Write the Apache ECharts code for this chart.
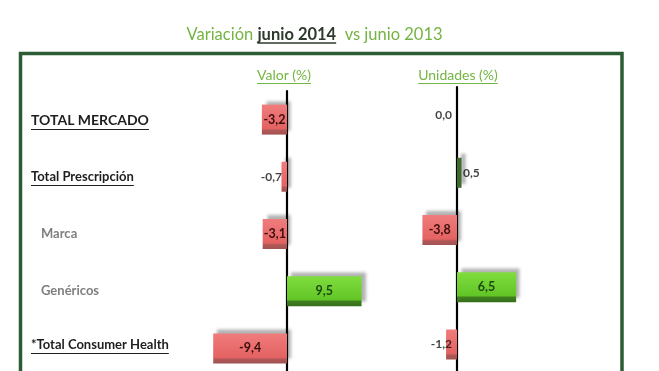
<!DOCTYPE html>
<html><head><meta charset="utf-8">
<script src="https://cdn.jsdelivr.net/npm/echarts@6/dist/echarts.min.js"></script>
<style>html,body{margin:0;padding:0;background:#fff}#c{width:659px;height:371px}</style>
</head><body><div id="c"></div>
<script>
// ---- data ----
const categories = ['TOTAL MERCADO', 'Total Prescripción', 'Marca', 'Genéricos', '*Total Consumer Health'];
const valorValues = [-3.2, -0.7, -3.1, 9.5, -9.4];
const unidadesValues = [0.0, 0.5, -3.8, 6.5, -1.2];
const titleParts = ['Variación ', 'junio 2014', '  vs junio 2013'];
const columnHeaders = ['Valor (%)', 'Unidades (%)'];

// ---- styles ----
const FONT = 'Lato';
const GREEN_TXT = '#74b443';
const LABEL_X = 31;
const catStyles = [
  { fontSize: 14, color: '#1e1e1e', underline: true, indent: 0, shift: -1 },
  { fontSize: 13, color: '#1e1e1e', underline: true, indent: 0, shift: 0 },
  { fontSize: 13, color: '#7f7f7f', underline: false, indent: 10, shift: 0 },
  { fontSize: 13, color: '#7f7f7f', underline: false, indent: 10, shift: 0 },
  { fontSize: 13, color: '#1e1e1e', underline: true, indent: 0, shift: 4 }
];
const fmt = v => v.toFixed(1).replace('.', ',');

function grad(stops) {
  return new echarts.graphic.LinearGradient(0, 0, 0, 1, stops.map(c => ({ offset: c[0], color: c[1] })));
}
const redFill = grad([[0, '#f07c7c'], [0.8, '#e46262'], [0.86, '#b25757'], [1, '#a05252']]);
const greenFill = grad([[0, '#80dd3e'], [0.78, '#62c526'], [0.84, '#3f7f1f'], [1, '#376f1b']]);

function barItem(v) {
  const color = v < 0 ? redFill : (Math.abs(v) < 1 ? '#3f6a2e' : greenFill);
  const big = Math.abs(v) >= 2;
  return {
    value: v,
    itemStyle: {
      color: color,
      shadowColor: v === 0 ? 'transparent' : 'rgba(0,0,0,0.3)',
      shadowBlur: 3, shadowOffsetX: 4, shadowOffsetY: -4
    },
    label: {
      show: big, position: 'inside', formatter: p => fmt(p.value),
      color: v > 0 ? '#1c4a0f' : '#3c0d0d',
      fontFamily: FONT, fontWeight: 'bold', fontSize: 12.5
    }
  };
}
function smallLabels(values) {
  return values.map((v, i) => Math.abs(v) < 2 ? {
    value: [0, i],
    label: { show: true, position: v > 0 ? 'right' : 'left', distance: v > 0 ? 6 : 5,
      formatter: fmt(v), color: '#111', fontFamily: FONT, fontWeight: 'bold', fontSize: 12 }
  } : null).filter(d => d);
}

const rich = {};
catStyles.forEach((s, i) => {
  rich['c' + i] = {
    fontFamily: FONT, fontWeight: 'bold', fontSize: s.fontSize, color: s.color,
    padding: [Math.max(0, -s.shift * 2), 0, Math.max(0, s.shift * 2), s.indent]
  };
});

const chart = echarts.init(document.getElementById('c'), null, { renderer: 'canvas' });
const TITLE_CX = 314.5, TITLE_Y = 35, TITLE_FS = 16.5;
const HEADER_Y = 75, HEADER_FS = 14;
const grids = [
  { left: 192.8, width: 188.4, top: 91, height: 286, outerBoundsMode: 'none', containLabel: false },
  { left: 366, width: 182, top: 87, height: 286, outerBoundsMode: 'none', containLabel: false }
];
const valueAxisRange = [[-12, 12], [-10, 10]];
const headerX = [284, 458];

chart.setOption({
  animation: false,
  backgroundColor: '#fff',
  grid: grids,
  xAxis: valueAxisRange.map((r, i) => ({
    type: 'value', gridIndex: i, min: r[0], max: r[1], show: false
  })),
  yAxis: [0, 1].map(i => ({
    type: 'category', gridIndex: i, data: categories, inverse: true,
    axisLine: { onZero: true, lineStyle: { color: '#000', width: 2.2 } },
    axisTick: { show: false },
    splitLine: { show: false },
    axisLabel: i === 0 ? {
      show: true, align: 'left', margin: grids[0].left - LABEL_X,
      formatter: (v, idx) => `{c${idx}|${v}}`, rich: rich
    } : { show: false }
  })),
  series: [
    { type: 'bar', xAxisIndex: 0, yAxisIndex: 0, barWidth: 30, data: valorValues.map(barItem) },
    { type: 'bar', xAxisIndex: 1, yAxisIndex: 1, barWidth: 30, data: unidadesValues.map(barItem) },
    { type: 'scatter', xAxisIndex: 0, yAxisIndex: 0, symbolSize: 0, data: smallLabels(valorValues), silent: true },
    { type: 'scatter', xAxisIndex: 1, yAxisIndex: 1, symbolSize: 0, data: smallLabels(unidadesValues), silent: true }
  ]
});

// ---- texts, frame and underlines ----
const ctx = document.createElement('canvas').getContext('2d');
function tw(text, font) { ctx.font = font; return ctx.measureText(text).width; }
const graphics = [];
graphics.push({ type: 'rect', shape: { x: 20.5, y: 53.5, width: 601.5, height: 400 },
  style: { fill: 'none', stroke: '#2b5c34', lineWidth: 3.5 }, z: 0 });
// title
const tf1 = `${TITLE_FS}px ${FONT}`, tf2 = `bold ${TITLE_FS}px ${FONT}`;
const w0 = tw(titleParts[0], tf1), w1 = tw(titleParts[1], tf2), w2 = tw(titleParts[2], tf1);
const tStart = TITLE_CX - (w0 + w1 + w2) / 2;
graphics.push({ type: 'text', x: tStart, y: TITLE_Y, style: {
  text: `{g|${titleParts[0]}}{u|${titleParts[1]}}{g|${titleParts[2]}}`,
  align: 'left', verticalAlign: 'middle',
  rich: {
    g: { fontFamily: FONT, fontSize: TITLE_FS, fill: GREEN_TXT, color: GREEN_TXT },
    u: { fontFamily: FONT, fontSize: TITLE_FS, fill: '#2e3a2c', color: '#2e3a2c', fontWeight: 'bold' }
  } } });
graphics.push({ type: 'line', shape: { x1: tStart + w0, y1: TITLE_Y + 8, x2: tStart + w0 + w1, y2: TITLE_Y + 8 },
  style: { stroke: '#2e3a2c', lineWidth: 1.3 } });
// column headers
columnHeaders.forEach((h, i) => {
  const w = tw(h, `${HEADER_FS}px ${FONT}`);
  graphics.push({ type: 'text', x: headerX[i], y: HEADER_Y, style: {
    text: h, fontFamily: FONT, fontSize: HEADER_FS, fill: GREEN_TXT, align: 'center', verticalAlign: 'middle' } });
  graphics.push({ type: 'line', shape: { x1: headerX[i] - w / 2, y1: HEADER_Y + 8.5, x2: headerX[i] + w / 2, y2: HEADER_Y + 8.5 },
    style: { stroke: GREEN_TXT, lineWidth: 1.2 } });
});
// category underlines
categories.forEach((c, i) => {
  const s = catStyles[i];
  if (!s.underline) return;
  const y = chart.convertToPixel({ yAxisIndex: 0 }, c);
  const w = tw(c, `bold ${s.fontSize}px ${FONT}`);
  const uy = Math.round(y - s.shift + s.fontSize * 0.52 + 1.5) + 0.5;
  graphics.push({ type: 'line', shape: { x1: LABEL_X + s.indent, y1: uy, x2: LABEL_X + s.indent + w, y2: uy },
    style: { stroke: s.color, lineWidth: 1.2 } });
});
chart.setOption({ graphic: graphics });
</script>
</body></html>
